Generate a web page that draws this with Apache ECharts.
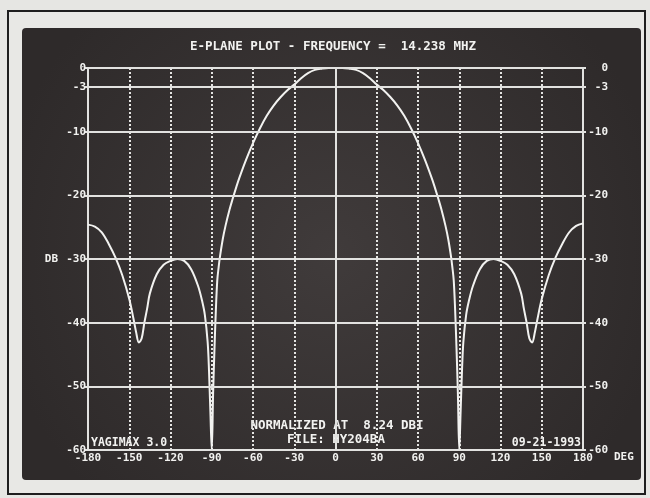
<!DOCTYPE html>
<html>
<head>
<meta charset="utf-8">
<title>E-Plane Plot</title>
<script src="https://cdn.jsdelivr.net/npm/echarts@6/dist/echarts.min.js"></script>
<style>
  html, body { margin: 0; padding: 0; background: #e6e6e3; }
  #chart { width: 650px; height: 498px; }
</style>
</head>
<body>
<div id="chart"></div>
<script>
// Azimuth angle (degrees) and relative field strength (dB) of the E-plane pattern
const angles = [
  -180, -175, -170, -165, -160, -155, -150, -147, -145, -143, -141, -139, -137, -135,
  -130, -125, -120, -115, -110, -105, -100, -97, -95, -93, -92, -91, -90,
  -89, -88, -87, -86, -85, -84, -82, -80, -77, -75, -72, -70, -65, -60, -55, -50,
  -45, -40, -35, -30, -25, -20, -15, -10, -5, 0,
  5, 10, 15, 20, 25, 30, 35, 40, 45, 50, 55, 60, 65, 70, 72, 75, 77, 80, 82, 84,
  85, 86, 87, 88, 89, 90, 91, 92, 93, 95, 97, 100, 105, 110, 115, 120, 125, 130,
  135, 137, 139, 141, 143, 145, 147, 150, 155, 160, 165, 170, 175, 180
];
const gainDb = [
  -24.6, -24.9, -25.8, -27.6, -29.8, -32.6, -36.3, -39.3, -41.5, -43.1, -42.5, -40.0, -37.8, -35.4,
  -32.4, -30.9, -30.3, -30.0, -30.3, -31.6, -34.2, -36.6, -38.8, -43.0, -47.5, -54.0, -60.0,
  -51.0, -44.0, -38.0, -33.4, -31.3, -29.6, -26.9, -24.8, -22.2, -20.7, -18.6, -17.3, -14.4, -11.8, -9.5, -7.5,
  -5.9, -4.6, -3.5, -2.6, -1.6, -0.8, -0.3, -0.1, 0, 0,
  0, -0.1, -0.3, -0.8, -1.6, -2.6, -3.5, -4.6, -5.9, -7.5, -9.5, -11.8, -14.4, -17.3, -18.6, -20.7, -22.2, -24.8, -26.9, -29.6,
  -31.3, -33.4, -38.0, -44.0, -51.0, -60.0, -54.0, -47.5, -43.0, -38.8, -36.6, -34.2, -31.6, -30.3, -30.0, -30.3, -30.9, -32.4,
  -35.4, -37.8, -40.0, -42.5, -43.1, -41.5, -39.3, -36.3, -32.6, -29.8, -27.6, -25.8, -24.8, -24.4
];

// Axis ticks
const dbTicks = [0, -3, -10, -20, -30, -40, -50, -60];
const degTicks = [-180, -150, -120, -90, -60, -30, 0, 30, 60, 90, 120, 150, 180];

// Screen captions
const titleText = 'E-PLANE PLOT - FREQUENCY =  14.238 MHZ';
const normText = 'NORMALIZED AT  8.24 DBI';
const fileText = 'FILE: HY204BA';
const progText = 'YAGIMAX 3.0';
const dateText = '09-21-1993';

const FONT = '"DejaVu Sans Mono", "Liberation Mono", monospace';
const INK = '#f2f2f0';
const GRID = '#e2e2e0';

const chart = echarts.init(document.getElementById('chart'));

const yAxisBase = {
  type: 'value',
  min: -60,
  max: 0,
  interval: 10,
  axisLine: { show: true, onZero: false, lineStyle: { color: GRID, width: 2 } },
  axisTick: { show: true, customValues: dbTicks, length: 3, lineStyle: { color: GRID, width: 2 } },
  splitLine: { show: false },
  axisLabel: {
    customValues: dbTicks,
    color: INK,
    fontFamily: FONT,
    fontWeight: 'bold',
    fontSize: 11
  }
};

chart.setOption({
  animation: false,
  backgroundColor: '#e6e6e3',
  graphic: [
    {
      type: 'rect', z: -20, silent: true,
      shape: { x: 8, y: 11, width: 637, height: 483 },
      style: { fill: '#e8e8e5', stroke: '#1e1e1e', lineWidth: 2 }
    },
    {
      type: 'rect', z: -10, silent: true,
      shape: { x: 22, y: 28, width: 619, height: 452, r: 4 },
      style: {
        fill: {
          type: 'radial', x: 0.5, y: 0.5, r: 0.75,
          colorStops: [
            { offset: 0, color: '#403b3b' },
            { offset: 1, color: '#2e2a2a' }
          ]
        }
      }
    },
    {
      type: 'text', x: 333, y: 47, silent: true,
      style: { text: titleText, fill: INK, font: 'bold 12.5px ' + FONT, align: 'center', verticalAlign: 'middle' }
    },
    {
      type: 'text', x: 337, y: 426, silent: true,
      style: { text: normText, fill: INK, font: 'bold 12.5px ' + FONT, align: 'center', verticalAlign: 'middle' }
    },
    {
      type: 'text', x: 336, y: 440, silent: true,
      style: { text: fileText, fill: INK, font: 'bold 12.5px ' + FONT, align: 'center', verticalAlign: 'middle' }
    },
    {
      type: 'text', x: 91, y: 443, silent: true,
      style: { text: progText, fill: INK, font: 'bold 11.5px ' + FONT, align: 'left', verticalAlign: 'middle' }
    },
    {
      type: 'text', x: 581, y: 443, silent: true,
      style: { text: dateText, fill: INK, font: 'bold 11.5px ' + FONT, align: 'right', verticalAlign: 'middle' }
    }
  ],
  grid: { left: 88, right: 67, top: 68, bottom: 48, containLabel: false },
  xAxis: {
    type: 'value',
    min: -180,
    max: 180,
    interval: 30,
    name: 'DEG',
    nameLocation: 'end',
    nameGap: 14,
    nameTextStyle: { color: INK, fontFamily: FONT, fontWeight: 'bold', fontSize: 11, verticalAlign: 'top', padding: [2, 0, 0, 0] },
    axisLine: { show: true, onZero: false, lineStyle: { color: GRID, width: 2 } },
    axisTick: { show: false },
    splitLine: { show: true, lineStyle: { color: '#e4e4e2', width: 2, type: [2, 2] } },
    axisLabel: {
      customValues: degTicks,
      color: INK,
      fontFamily: FONT,
      fontWeight: 'bold',
      fontSize: 11,
      margin: 3
    }
  },
  yAxis: [
    Object.assign({}, yAxisBase, {
      position: 'left',
      name: 'DB',
      nameLocation: 'middle',
      nameRotate: 0,
      nameGap: 30,
      nameTextStyle: { color: INK, fontFamily: FONT, fontWeight: 'bold', fontSize: 11 },
      axisLabel: Object.assign({}, yAxisBase.axisLabel, { margin: 2 })
    }),
    Object.assign({}, yAxisBase, {
      position: 'right',
      axisLabel: Object.assign({}, yAxisBase.axisLabel, { margin: 25, align: 'right' })
    })
  ],
  series: [
    {
      type: 'line',
      yAxisIndex: 0,
      data: angles.map((a, i) => [a, gainDb[i]]),
      showSymbol: false,
      symbol: 'none',
      smooth: 0.35,
      clip: true,
      lineStyle: { color: INK, width: 2 },
      markLine: {
        silent: true,
        symbol: ['none', 'none'],
        label: { show: false },
        lineStyle: { color: GRID, width: 2, type: 'solid' },
        data: dbTicks.map(v => ({ yAxis: v })).concat([{ xAxis: 0 }])
      }
    }
  ]
});
</script>
</body>
</html>
